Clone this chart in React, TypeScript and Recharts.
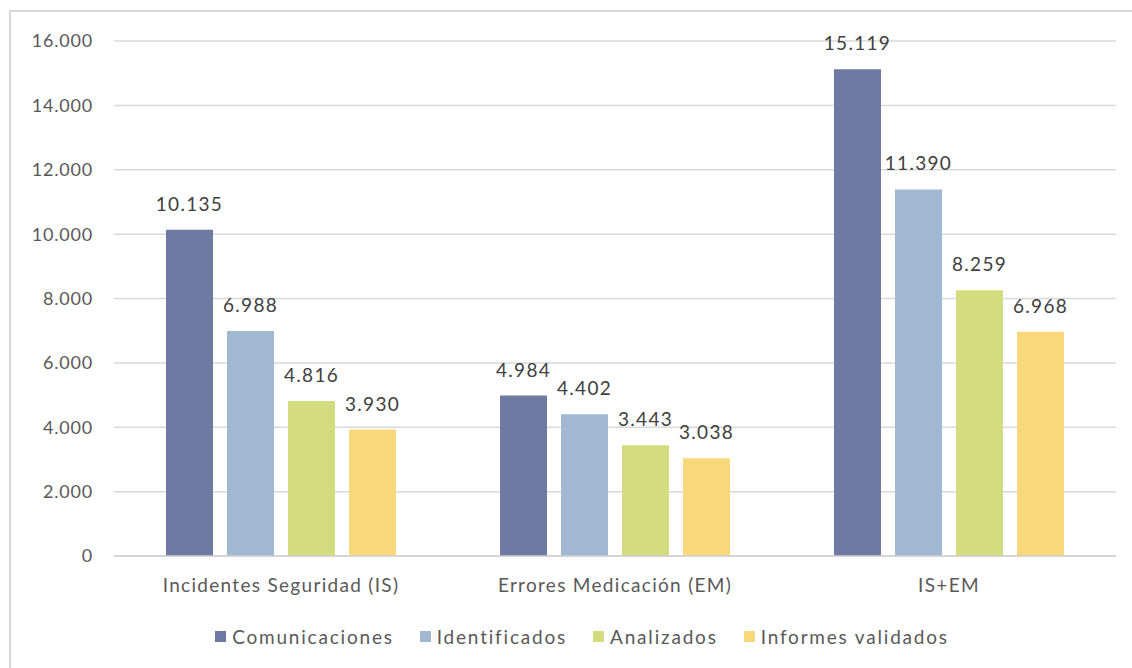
import React from "react";
import { BarChart, Bar, XAxis, YAxis, CartesianGrid, Legend, LabelList } from "recharts";

const categories = ["Incidentes Seguridad (IS)", "Errores Medicación (EM)", "IS+EM"];
const comunicaciones = [10135, 4984, 15119];
const identificados = [6988, 4402, 11390];
const analizados = [4816, 3443, 8259];
const informesValidados = [3930, 3038, 6968];
const yTicks = [0, 2000, 4000, 6000, 8000, 10000, 12000, 14000, 16000];

const seriesNames = ["Comunicaciones", "Identificados", "Analizados", "Informes validados"];
const seriesColors = ["#6E7AA2", "#A0B8D2", "#D3DC7E", "#F9D87C"];

const data = categories.map((c, i) => ({
  name: c,
  s0: comunicaciones[i],
  s1: identificados[i],
  s2: analizados[i],
  s3: informesValidados[i],
}));

const fmt = (v: any) => {
  const n = Number(v);
  return n.toString().replace(/\B(?=(\d{3})+(?!\d))/g, ".");
};

const FONT = "Lato, 'Open Sans', sans-serif";

const XTick = (props: any) => {
  const { x, y, payload } = props;
  return (
    <text x={x} y={y} dy="0.71em" textAnchor="middle" fill="#595959" fontSize={19} fontFamily={FONT} letterSpacing={1.3}>
      {payload.value}
    </text>
  );
};

const YTick = (props: any) => {
  const { x, y, payload } = props;
  return (
    <text x={x} y={y} dy="0.355em" textAnchor="end" fill="#595959" fontSize={18} fontFamily={FONT} letterSpacing={0.8}>
      {fmt(payload.value)}
    </text>
  );
};

const LegendContent = () => (
  <div
    style={{
      height: 30,
      display: "flex",
      justifyContent: "center",
      alignItems: "center",
      fontFamily: FONT,
      fontSize: 19,
      letterSpacing: 1.8,
      color: "#595959",
      paddingLeft: 38,
    }}
  >
    {seriesNames.map((n, i) => (
      <div key={n} style={{ display: "flex", alignItems: "center", marginRight: i < 3 ? 26 : 0 }}>
        <div style={{ width: 11, height: 11, background: seriesColors[i], marginRight: 6 }} />
        <span>{n}</span>
      </div>
    ))}
  </div>
);

export default function App() {
  return (
    <div style={{ position: "absolute", left: 0, top: 0, width: 1132, height: 668, background: "#fff", overflow: "hidden" }}>
      <div
        style={{
          position: "absolute",
          left: 9,
          top: 10,
          width: 1200,
          height: 700,
          borderLeft: "2px solid #d9d9d9",
          borderTop: "2px solid #d9d9d9",
        }}
      />
      <div style={{ position: "absolute", left: 0, top: 0 }}>
        <BarChart
          width={1132}
          height={668}
          data={data}
          margin={{ top: 41, right: 16, bottom: 17, left: 10 }}
          barCategoryGap={52}
          barGap={14}
        >
          <CartesianGrid vertical={false} stroke="#d9d9d9" strokeWidth={1.5} />
          <XAxis
            dataKey="name"
            height={65}
            tickLine={false}
            axisLine={{ stroke: "#d0d0d0", strokeWidth: 1.5 }}
            tickMargin={17}
            tick={<XTick />}
          />
          <YAxis
            width={104}
            domain={[0, 16000]}
            ticks={yTicks}
            interval={0}
            axisLine={false}
            tickLine={false}
            tickMargin={15}
            tick={<YTick />}
          />
          <Legend verticalAlign="bottom" content={<LegendContent />} />
          {["s0", "s1", "s2", "s3"].map((k, i) => (
            <Bar key={k} dataKey={k} name={seriesNames[i]} fill={seriesColors[i]} isAnimationActive={false}>
              <LabelList
                dataKey={k}
                position="top"
                offset={19}
                formatter={fmt}
                style={{ fill: "#404040", fontSize: 19, fontFamily: FONT, letterSpacing: 1.3 }}
              />
            </Bar>
          ))}
        </BarChart>
      </div>
    </div>
  );
}
